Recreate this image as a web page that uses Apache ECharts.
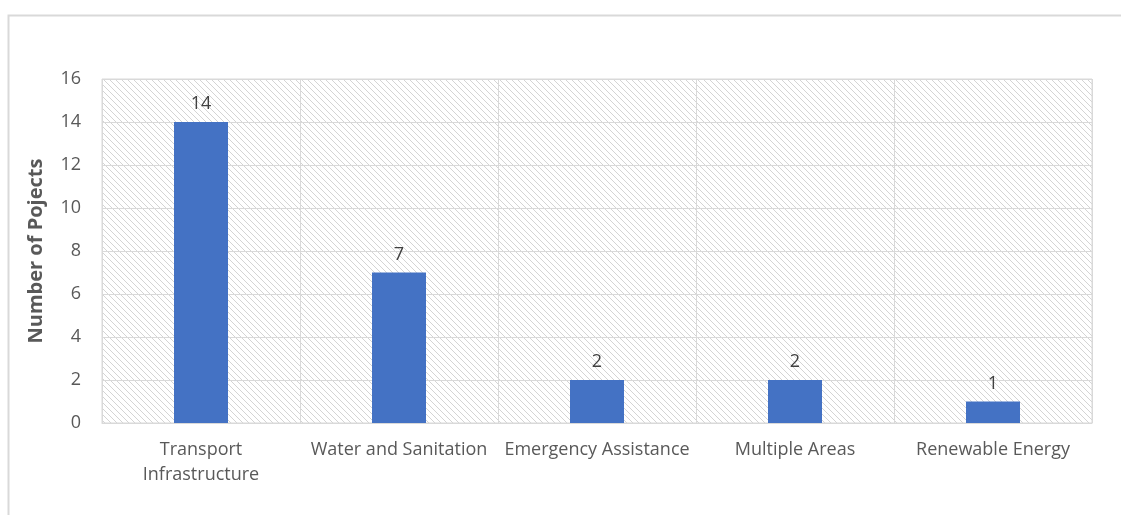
<!DOCTYPE html>
<html>
<head>
<meta charset="utf-8">
<script src="https://cdn.jsdelivr.net/npm/echarts@6/dist/echarts.min.js"></script>
<style>
  html, body { margin: 0; padding: 0; background: #fff; }
  #main { width: 1121px; height: 515px; }
</style>
</head>
<body>
<div id="main"></div>
<script>
var categories = ['Transport\nInfrastructure', 'Water and Sanitation', 'Emergency Assistance', 'Multiple Areas', 'Renewable Energy'];
var projects = [14, 7, 2, 2, 1];
var yTicks = [0, 16, 2];

// hatch pattern for the plot background
function hatch() {
	var c = document.createElement('canvas');
	c.width = 6;
	c.height = 6;
	var ctx = c.getContext('2d');
	ctx.fillStyle = '#ffffff';
	ctx.fillRect(0, 0, 6, 6);
	ctx.strokeStyle = '#d4d4d4';
	ctx.lineWidth = 1;
	ctx.beginPath();
	ctx.moveTo(-1, -1);
	ctx.lineTo(7, 7);
	ctx.moveTo(-1, 5);
	ctx.lineTo(1, 7);
	ctx.moveTo(5, -1);
	ctx.lineTo(7, 1);
	ctx.stroke();
	return c;
}

var myChart = echarts.init(document.getElementById('main'));
var font = "'Open Sans', 'Noto Sans', sans-serif";
var option = {
	animation: false,
	backgroundColor: '#ffffff',
	graphic: [{
		type: 'rect',
		shape: { x: 8.5, y: 15.5, width: 1200, height: 600 },
		style: { fill: 'none', stroke: '#d9d9d9', lineWidth: 2 },
		silent: true
	}],
	grid: {
		left: 102,
		right: 29,
		top: 79,
		bottom: 92,
		show: true,
		backgroundColor: { image: hatch(), repeat: 'repeat' },
		borderColor: '#d9d9d9',
		borderWidth: 1
	},
	xAxis: {
		type: 'category',
		data: categories,
		axisLine: { lineStyle: { color: '#d9d9d9', width: 1 } },
		axisTick: { show: false },
		axisLabel: {
			color: '#595959',
			fontFamily: font,
			fontSize: 18,
			lineHeight: 25,
			margin: 14,
			interval: 0
		},
		splitLine: { show: true, lineStyle: { color: '#d9d9d9', width: 1 } }
	},
	yAxis: {
		type: 'value',
		min: yTicks[0],
		max: yTicks[1],
		interval: yTicks[2],
		name: 'Number of Pojects',
		nameLocation: 'middle',
		nameGap: 56,
		nameTextStyle: { color: '#595959', fontFamily: font, fontSize: 20, fontWeight: 'bold' },
		axisLine: { show: false },
		axisTick: { show: false },
		axisLabel: { color: '#595959', fontFamily: font, fontSize: 18, margin: 21 },
		splitLine: { lineStyle: { color: '#d9d9d9', width: 1 } }
	},
	series: [{
		type: 'bar',
		data: projects,
		barWidth: 54,
		itemStyle: { color: '#4472c4' },
		label: {
			show: true,
			position: 'top',
			distance: 9,
			color: '#404040',
			fontFamily: font,
			fontSize: 18
		}
	}]
};
myChart.setOption(option);
</script>
</body>
</html>
